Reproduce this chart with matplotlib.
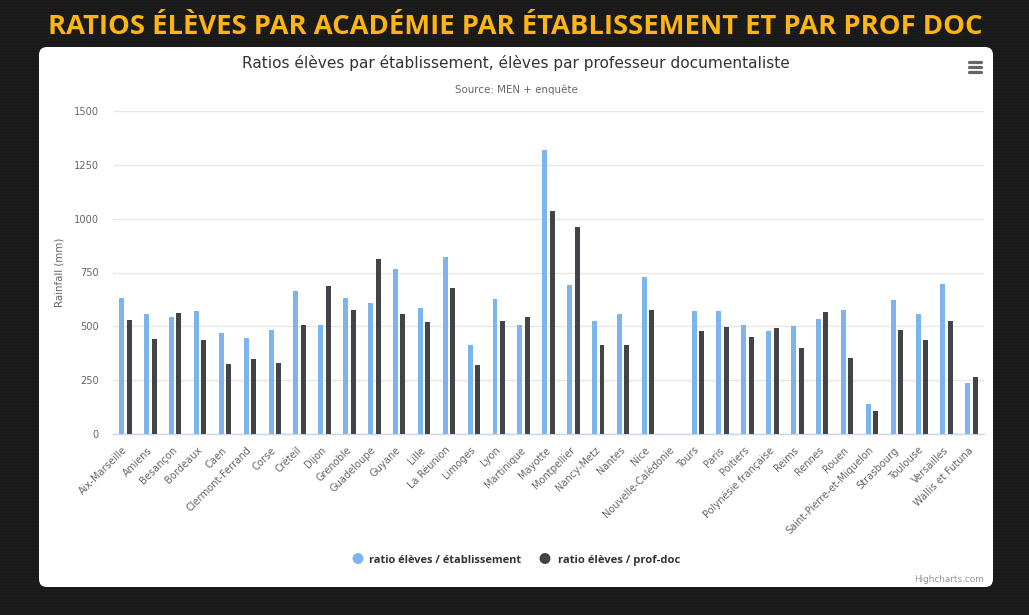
import matplotlib
matplotlib.use('Agg')
import matplotlib.pyplot as plt
from matplotlib.patches import FancyBboxPatch
from matplotlib.transforms import ScaledTranslation
import numpy as np

academies = ['Aix-Marseille', 'Amiens', 'Besançon', 'Bordeaux', 'Caen', 'Clermont-Ferrand', 'Corse',
             'Créteil', 'Dijon', 'Grenoble', 'Guadeloupe', 'Guyane', 'Lille', 'La Réunion', 'Limoges',
             'Lyon', 'Martinique', 'Mayotte', 'Montpellier', 'Nancy-Metz', 'Nantes', 'Nice',
             'Nouvelle-Calédonie', 'Tours', 'Paris', 'Poitiers', 'Polynésie française', 'Reims',
             'Rennes', 'Rouen', 'Saint-Pierre-et-Miquelon', 'Strasbourg', 'Toulouse', 'Versailles',
             'Wallis et Futuna']
ratio_etab = [630, 555, 543, 572, 467, 447, 483, 663, 505, 630, 610, 765, 585, 822, 413, 627, 505, 1320,
              690, 523, 558, 727, 0, 572, 572, 505, 477, 500, 535, 577, 140, 622, 555, 698, 235]
ratio_prof = [530, 443, 563, 438, 325, 350, 330, 508, 685, 577, 815, 555, 518, 677, 320, 527, 543, 1035,
              960, 413, 413, 577, 0, 477, 497, 450, 493, 400, 568, 353, 107, 483, 437, 527, 263]
y_ticks = [0, 250, 500, 750, 1000, 1250, 1500]

W, H = 1029, 615
BLUE = '#7cb5ec'
DARK = '#434348'

fig = plt.figure(figsize=(W / 100, H / 100), dpi=100, facecolor='#1b1b1b')

# background layer in pixel coordinates: woven dark texture and white card
bg = fig.add_axes([0, 0, 1, 1], zorder=0)
bg.set_xlim(0, W)
bg.set_ylim(H, 0)
bg.axis('off')
yy, xx = np.mgrid[0:H, 0:W]
weave = 26 + 3 * ((xx % 2 == 0).astype(float) - (yy % 3 == 0).astype(float))
bg.imshow(weave, cmap='gray', vmin=0, vmax=255, extent=(0, W, H, 0), aspect='auto', interpolation='nearest')
bg.add_patch(FancyBboxPatch((47, 55), 938, 524, boxstyle='round,pad=8,rounding_size=8',
                            fc='white', ec='none'))

bg.text(515.5, 27, 'RATIOS ÉLÈVES PAR ACADÉMIE PAR ÉTABLISSEMENT ET PAR PROF DOC',
        color='#fdb515', fontsize=19.75, family='Open Sans', weight='bold', ha='center', va='center')
bg.text(516, 63, 'Ratios élèves par établissement, élèves par professeur documentaliste',
        color='#333333', fontsize=11.1, ha='center', va='center')
bg.text(516, 90, 'Source: MEN + enquête', color='#666666', fontsize=7.4, ha='center', va='center')
bg.text(984, 580, 'Highcharts.com', color='#999999', fontsize=6.4, ha='right', va='center')

# export menu icon
for y in [62, 67, 72]:
    bg.plot([968.5, 980.5], [y, y], color='#666666', lw=2.3, solid_capstyle='round')

# main plot area
ax = fig.add_axes([113 / W, 1 - 434 / H, 871 / W, 323 / H], zorder=1)
ax.patch.set_alpha(0)
x = np.arange(len(academies))
ax.bar(x - 0.15, ratio_etab, width=0.2, color=BLUE, zorder=3)
ax.bar(x + 0.15, ratio_prof, width=0.2, color=DARK, zorder=3)

ax.set_xlim(-0.5, len(academies) - 0.5)
ax.set_ylim(0, 1500)
ax.set_yticks(y_ticks)
ax.set_xticks(x)
ax.set_xticklabels(academies, rotation=45, ha='right', va='top', rotation_mode='anchor',
                   fontsize=7.1, color='#666666')
ax.tick_params(axis='x', length=0, pad=8)
ax.tick_params(axis='y', length=0, pad=10, labelsize=7.1, labelcolor='#666666')

# nudge the rotated labels left, they end just before the group centre
offset = ScaledTranslation(-2.5 / 72, 0, fig.dpi_scale_trans)
for label in ax.get_xticklabels():
    label.set_transform(label.get_transform() + offset)

ax.grid(axis='y', color='#e6e6e6', lw=1, zorder=0)
for side in ['top', 'left', 'right']:
    ax.spines[side].set_visible(False)
ax.spines['bottom'].set_color('#ccd6eb')
ax.spines['bottom'].set_linewidth(1)
ax.set_ylabel('Rainfall (mm)', fontsize=7.4, color='#666666')
ax.yaxis.set_label_coords((65 - 113) / 871, 0.5)

# legend drawn by hand so the spacing follows the original
bg.scatter([358, 545], [558.5, 558.5], s=62, c=[BLUE, DARK], linewidths=0)
bg.text(369, 563, 'ratio élèves / établissement', color='#333333', fontsize=7.9, family='Open Sans',
        weight='bold', ha='left', va='baseline')
bg.text(558, 563, 'ratio élèves / prof-doc', color='#333333', fontsize=8.1, family='Open Sans',
        weight='bold', ha='left', va='baseline')

fig.savefig('out.png', dpi=100, facecolor=fig.get_facecolor())
